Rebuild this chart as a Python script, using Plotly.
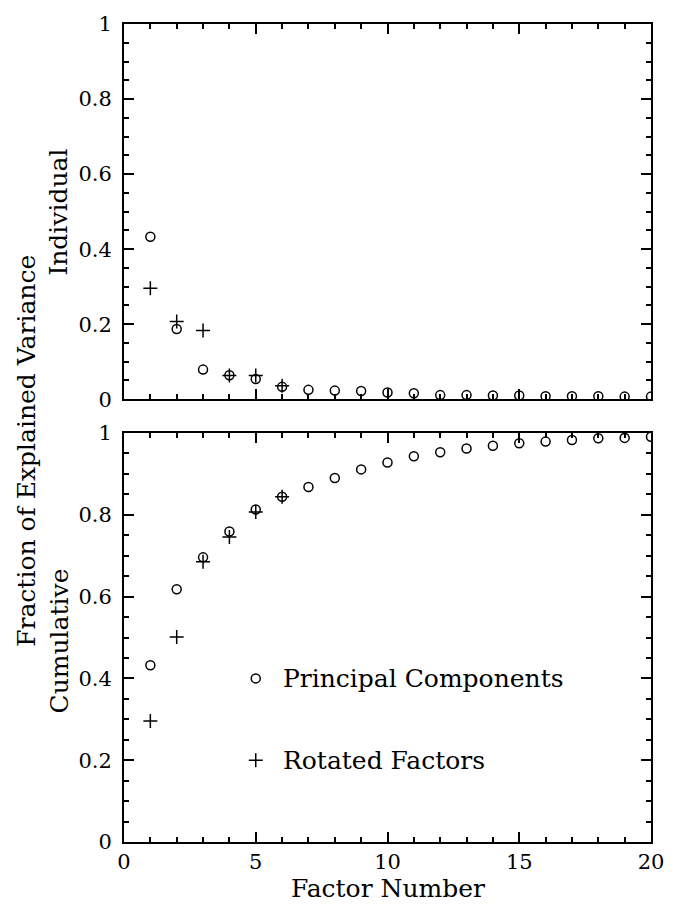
import plotly.graph_objects as go

# ---- data ----
factors = list(range(1, 21))
pc_individual = [0.433, 0.187, 0.079, 0.064, 0.054, 0.033, 0.025, 0.023, 0.022, 0.018,
                 0.016, 0.011, 0.011, 0.010, 0.010, 0.008, 0.008, 0.008, 0.007, 0.007]
pc_cumulative = [0.432, 0.618, 0.696, 0.759, 0.813, 0.844, 0.868, 0.890, 0.911, 0.928,
                 0.943, 0.953, 0.962, 0.969, 0.975, 0.979, 0.983, 0.987, 0.988, 0.991]
rot_factors = [1, 2, 3, 4, 5, 6]
rot_individual = [0.296, 0.207, 0.183, 0.063, 0.063, 0.036]
rot_cumulative = [0.296, 0.501, 0.685, 0.746, 0.807, 0.844]

legend_labels = ["Principal Components", "Rotated Factors"]
legend_x = 5
legend_y = [0.4, 0.2]

x_ticks = [0, 5, 10, 15, 20]
y_ticks = [0, 0.2, 0.4, 0.6, 0.8, 1]

FONT = "DejaVu Serif"
FS_TICK = 21
FS_TEXT = 25

circle = dict(symbol="circle-open", size=9, color="black", line=dict(width=1.5, color="black"))
plus = dict(symbol="cross-thin-open", size=10, color="black", line=dict(width=1.5, color="black"))

fig = go.Figure()
fig.add_trace(go.Scatter(x=factors, y=pc_individual, mode="markers", marker=circle, xaxis="x", yaxis="y"))
fig.add_trace(go.Scatter(x=rot_factors, y=rot_individual, mode="markers", marker=plus, xaxis="x", yaxis="y"))
fig.add_trace(go.Scatter(x=factors, y=pc_cumulative, mode="markers", marker=circle, xaxis="x2", yaxis="y2"))
fig.add_trace(go.Scatter(x=rot_factors, y=rot_cumulative, mode="markers", marker=plus, xaxis="x2", yaxis="y2"))
# legend symbols
fig.add_trace(go.Scatter(x=[legend_x], y=[legend_y[0]], mode="markers", marker=circle, xaxis="x2", yaxis="y2"))
fig.add_trace(go.Scatter(x=[legend_x], y=[legend_y[1]], mode="markers", marker=plus, xaxis="x2", yaxis="y2"))

axis_common = dict(
    showline=True, linewidth=2, linecolor="black", mirror="allticks",
    ticks="inside", ticklen=10, tickwidth=1.5, tickcolor="black",
    showgrid=False, zeroline=False,
    tickfont=dict(family=FONT, size=FS_TICK, color="black"),
)

def xaxis(anchor, labels):
    d = dict(axis_common)
    d.update(range=[0, 20], tickmode="array", tickvals=x_ticks, ticktext=[str(v) for v in x_ticks],
             showticklabels=labels, anchor=anchor, ticklabelstandoff=0,
             minor=dict(ticks="inside", ticklen=5, tickwidth=1.5, tickcolor="black", dtick=1, tick0=0, showgrid=False))
    return d

def yaxis(anchor, domain):
    d = dict(axis_common)
    d.update(range=[0, 1], tickmode="array", tickvals=y_ticks,
             ticktext=["0", "0.2", "0.4", "0.6", "0.8", "1"], anchor=anchor, domain=domain,
             ticklabelstandoff=6,
             minor=dict(ticks="inside", ticklen=5, tickwidth=1.5, tickcolor="black", dtick=0.05, tick0=0, showgrid=False))
    return d

top_dom = [(842 - 396) / 824, 1.0]
bot_dom = [0.0, (842 - 430) / 824]

fig.update_layout(
    width=678, height=905,
    margin=dict(l=124, r=27, t=18, b=63),
    plot_bgcolor="white", paper_bgcolor="white",
    showlegend=False,
    xaxis=xaxis("y", False),
    yaxis=yaxis("x", top_dom),
    xaxis2=xaxis("y2", True),
    yaxis2=yaxis("x2", bot_dom),
    font=dict(family=FONT, size=FS_TEXT, color="black"),
)

ann = []
for lab, yy in zip(legend_labels, legend_y):
    ann.append(dict(x=5.95, y=yy, xref="x2", yref="y2", text=lab, showarrow=False,
                    xanchor="left", yanchor="middle", font=dict(family=FONT, size=FS_TEXT, color="black")))
ann.append(dict(x=0.5, y=(842 - 889) / 824, xref="paper", yref="paper", text="Factor Number",
                showarrow=False, xanchor="center", yanchor="middle", font=dict(family=FONT, size=FS_TEXT)))
ann.append(dict(x=(27 - 124) / 527, y=(842 - 448) / 824, xref="paper", yref="paper",
                text="Fraction of Explained Variance", textangle=-90, showarrow=False,
                xanchor="center", yanchor="middle", font=dict(family=FONT, size=FS_TEXT)))
ann.append(dict(x=(59 - 124) / 527, y=(842 - 208) / 824, xref="paper", yref="paper",
                text="Individual", textangle=-90, showarrow=False,
                xanchor="center", yanchor="middle", font=dict(family=FONT, size=FS_TEXT)))
ann.append(dict(x=(59 - 124) / 527, y=(842 - 640) / 824, xref="paper", yref="paper",
                text="Cumulative", textangle=-90, showarrow=False,
                xanchor="center", yanchor="middle", font=dict(family=FONT, size=FS_TEXT)))
fig.update_layout(annotations=ann)

fig.write_html("out.html")
